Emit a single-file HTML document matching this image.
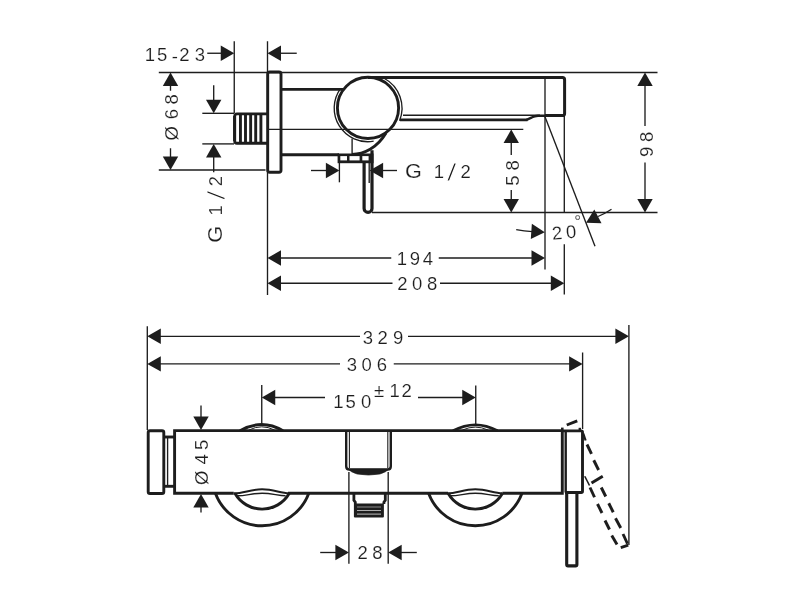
<!DOCTYPE html>
<html><head><meta charset="utf-8"><title>Drawing</title>
<style>
html,body{margin:0;padding:0;background:#fff;}
svg{display:block;}
svg text{font-family:"Liberation Sans",sans-serif;fill:#1d1d1b;stroke:#fff;stroke-width:0.15px;}
svg text.sl{stroke-width:0.9px;}
svg{filter:grayscale(1);}
</style></head>
<body>
<svg width="800" height="600" viewBox="0 0 800 600">
<rect x="0" y="0" width="800" height="600" fill="#fff" stroke="none"/>
<g stroke="#1d1d1b" fill="none">
<line x1="234.25" y1="41.25" x2="234.25" y2="113" stroke-width="1.35" />
<line x1="267.5" y1="41.25" x2="267.5" y2="295" stroke-width="1.35" />
<line x1="158.8" y1="72.5" x2="657.5" y2="72.5" stroke-width="1.35" />
<line x1="158.8" y1="170" x2="265.5" y2="170" stroke-width="1.35" />
<line x1="202.3" y1="113.3" x2="234" y2="113.3" stroke-width="1.35" />
<line x1="202.3" y1="143.9" x2="234" y2="143.9" stroke-width="1.35" />
<line x1="269" y1="129.3" x2="523.3" y2="129.3" stroke-width="1.35" />
<line x1="372" y1="212.5" x2="657.5" y2="212.5" stroke-width="1.35" />
<line x1="545" y1="77" x2="545" y2="269.5" stroke-width="1.35" />
<line x1="564.3" y1="116" x2="564.3" y2="213" stroke-width="1.35" />
<line x1="564.3" y1="244.3" x2="564.3" y2="294.5" stroke-width="1.35" />
<line x1="544.7" y1="116" x2="595" y2="246.3" stroke-width="1.35" />
<line x1="339.4" y1="163" x2="339.4" y2="182.3" stroke-width="1.35" />
<line x1="369.2" y1="163" x2="369.2" y2="183" stroke-width="1.35" />
<line x1="352.1" y1="138.5" x2="352.1" y2="154" stroke-width="1.35" />
<line x1="645" y1="85" x2="645" y2="126" stroke-width="1.35" />
<line x1="645" y1="162.5" x2="645" y2="200" stroke-width="1.35" />
<polygon points="645.00,72.50 652.70,86.00 637.30,86.00" fill="#1d1d1b" stroke="none"/>
<polygon points="645.00,212.50 637.30,199.00 652.70,199.00" fill="#1d1d1b" stroke="none"/>
<line x1="511.25" y1="142" x2="511.25" y2="155" stroke-width="1.35" />
<line x1="511.25" y1="190" x2="511.25" y2="200" stroke-width="1.35" />
<polygon points="511.25,129.50 518.95,143.00 503.55,143.00" fill="#1d1d1b" stroke="none"/>
<polygon points="511.25,212.50 503.55,199.00 518.95,199.00" fill="#1d1d1b" stroke="none"/>
<line x1="170.5" y1="85" x2="170.5" y2="90.75" stroke-width="1.35" />
<line x1="170.5" y1="148.25" x2="170.5" y2="158" stroke-width="1.35" />
<polygon points="170.50,72.50 178.20,86.00 162.80,86.00" fill="#1d1d1b" stroke="none"/>
<polygon points="170.50,170.00 162.80,156.50 178.20,156.50" fill="#1d1d1b" stroke="none"/>
<line x1="213.7" y1="85.2" x2="213.7" y2="101.3" stroke-width="1.35" />
<line x1="213.7" y1="155.7" x2="213.7" y2="172.25" stroke-width="1.35" />
<polygon points="213.70,113.30 206.00,99.80 221.40,99.80" fill="#1d1d1b" stroke="none"/>
<polygon points="213.70,143.90 221.40,157.40 206.00,157.40" fill="#1d1d1b" stroke="none"/>
<line x1="207.25" y1="53.25" x2="222" y2="53.25" stroke-width="1.35" />
<line x1="280" y1="53.25" x2="296.75" y2="53.25" stroke-width="1.35" />
<polygon points="234.25,53.25 220.75,60.95 220.75,45.55" fill="#1d1d1b" stroke="none"/>
<polygon points="267.50,53.25 281.00,45.55 281.00,60.95" fill="#1d1d1b" stroke="none"/>
<line x1="311" y1="170.5" x2="327.2" y2="170.5" stroke-width="1.35" />
<line x1="382.3" y1="170.5" x2="397" y2="170.5" stroke-width="1.35" />
<polygon points="339.40,170.50 325.90,178.20 325.90,162.80" fill="#1d1d1b" stroke="none"/>
<polygon points="369.60,170.50 383.10,162.80 383.10,178.20" fill="#1d1d1b" stroke="none"/>
<line x1="280" y1="258" x2="391.25" y2="258" stroke-width="1.35" />
<line x1="438.75" y1="258" x2="533" y2="258" stroke-width="1.35" />
<polygon points="267.50,258.00 281.00,250.30 281.00,265.70" fill="#1d1d1b" stroke="none"/>
<polygon points="545.00,258.00 531.50,265.70 531.50,250.30" fill="#1d1d1b" stroke="none"/>
<line x1="280" y1="283.25" x2="392.5" y2="283.25" stroke-width="1.35" />
<line x1="440" y1="283.25" x2="552" y2="283.25" stroke-width="1.35" />
<polygon points="267.50,283.25 281.00,275.55 281.00,290.95" fill="#1d1d1b" stroke="none"/>
<polygon points="564.30,283.25 550.80,290.95 550.80,275.55" fill="#1d1d1b" stroke="none"/>
<polygon points="544.80,232.30 530.80,239.04 531.87,223.68" fill="#1d1d1b" stroke="none"/>
<path d="M532.5,231.6 Q524,231.2 516.2,229.6" stroke-width="1.35" fill="none" />
<polygon points="586.00,222.75 594.30,209.61 601.53,223.21" fill="#1d1d1b" stroke="none"/>
<path d="M598,216.5 Q605,213.5 611.5,209.2" stroke-width="1.35" fill="none" />
<rect x="267.7" y="72" width="13.3" height="100.3" rx="2" ry="2" stroke-width="2.9" fill="none"/>
<path d="M267,113.85 H237 Q234.7,113.85 234.7,116.2 V140.9 Q234.7,143.2 237,143.2 H267" stroke-width="2.9" fill="none" />
<line x1="234.2" y1="116" x2="234.2" y2="141" stroke-width="2.2" />
<line x1="240.45" y1="114" x2="240.45" y2="143.2" stroke-width="2.9" />
<line x1="245.5" y1="114" x2="245.5" y2="143.2" stroke-width="2.9" />
<line x1="250.65" y1="114" x2="250.65" y2="143.2" stroke-width="2.9" />
<line x1="255.7" y1="114" x2="255.7" y2="143.2" stroke-width="2.9" />
<line x1="260.9" y1="114" x2="260.9" y2="143.2" stroke-width="2.9" />
<line x1="282" y1="89.4" x2="343" y2="89.4" stroke-width="2.9" />
<line x1="282" y1="154.8" x2="339" y2="154.8" stroke-width="2.9" />
<circle cx="368" cy="107.9" r="30.6" stroke-width="2.9" fill="none"/>
<path d="M373.63,141.19 A33.6,33.6 0 0 1 340.62,88.35" stroke-width="1.35" fill="none" />
<path d="M384.07,78.26 A33.8,33.8 0 0 1 399.54,120.76" stroke-width="1.35" fill="none" />
<path d="M368,77.5 H562.4 Q564.6,77.5 564.6,79.7 V113.4 Q564.6,115.6 562.4,115.6 H545" stroke-width="3" fill="none" />
<path d="M546,115.7 H538 Q534.5,116 532,117.3 L526.5,119.8" stroke-width="2.4" fill="none" />
<path d="M527.5,119.8 H400" stroke-width="2.8" fill="none" />
<line x1="403" y1="115.2" x2="540" y2="115.2" stroke-width="1.35" />
<path d="M364.1,163 V208.4 A3.95,3.95 0 0 0 372,208.4 V150.2" stroke-width="3.2" fill="none" />
<path d="M352,154.4 C364,154.4 377,148 386,133" stroke-width="2.9" fill="none" />
<rect x="337.6" y="153.5" width="35.9" height="9.7" fill="#1d1d1b" stroke="none"/>
<rect x="340.3" y="156.1" width="6.70" height="4.3" fill="#fff" stroke="none"/>
<rect x="349.5" y="156.1" width="10.10" height="4.3" fill="#fff" stroke="none"/>
<rect x="362.3" y="156.1" width="6.30" height="4.3" fill="#fff" stroke="none"/>
<text x="144.83 157.07" y="60.6" font-size="18.5" >15</text>
<text x="171.75" y="62.8" font-size="18.5" >-</text>
<text x="179.32 194.81" y="60.6" font-size="18.5" >23</text>
<text transform="translate(178.2 0) rotate(-90)" x="-140.52 -119.37 -104.43" y="0" font-size="18.5">Ø68</text>
<text transform="translate(221.90 234.65) rotate(-90) scale(1.1 1)" x="-7.49" y="0" font-size="19.7">G</text>
<text transform="translate(221.6 0) rotate(-90)" x="-215.56" y="0" font-size="18.5">1</text>
<text transform="translate(225.00 195.30) rotate(-90) scale(1.45 1)" x="-3.43" y="0" font-size="24.5" class="sl">/</text>
<text transform="translate(221.6 0) rotate(-90)" x="-186.18" y="0" font-size="18.5">2</text>
<text transform="translate(413.15 178.20) scale(1.1 1)" x="-7.49" y="0" font-size="19.7">G</text>
<text x="433.83" y="177.9" font-size="18.5" >1</text>
<text transform="translate(451.80 181.30) scale(1.45 1)" x="-3.43" y="0" font-size="24.5" class="sl">/</text>
<text x="460.42" y="177.9" font-size="18.5" >2</text>
<text transform="translate(518.7 0) rotate(-90)" x="-185.68 -170.43" y="0" font-size="18.5">58</text>
<text transform="translate(652.6 0) rotate(-90)" x="-157.09 -142.08" y="0" font-size="18.5">98</text>
<g transform="rotate(-5 565 238)">
<text x="552.32 566.41" y="238.6" font-size="18.5" >20</text>
</g>
<text x="574.28" y="227.42" font-size="17">°</text>
<text x="396.83 409.66 422.66" y="264.6" font-size="18.5" >194</text>
<text x="397.32 411.96 427.07" y="289.7" font-size="18.5" >208</text>
<line x1="147.3" y1="326.2" x2="147.3" y2="430" stroke-width="1.35" />
<line x1="628.9" y1="325" x2="628.9" y2="545" stroke-width="1.35" />
<line x1="582.6" y1="352.5" x2="582.6" y2="429" stroke-width="1.35" />
<line x1="261.75" y1="385" x2="261.75" y2="424" stroke-width="1.35" />
<line x1="475.75" y1="385.5" x2="475.75" y2="425" stroke-width="1.35" />
<line x1="348.9" y1="472" x2="348.9" y2="563.7" stroke-width="1.35" />
<line x1="388.2" y1="472" x2="388.2" y2="563.7" stroke-width="1.35" />
<line x1="160" y1="336.3" x2="360" y2="336.3" stroke-width="1.35" />
<line x1="408" y1="336.3" x2="616.5" y2="336.3" stroke-width="1.35" />
<polygon points="147.30,336.30 160.80,328.60 160.80,344.00" fill="#1d1d1b" stroke="none"/>
<polygon points="628.90,336.30 615.40,344.00 615.40,328.60" fill="#1d1d1b" stroke="none"/>
<line x1="160" y1="363.9" x2="340" y2="363.9" stroke-width="1.35" />
<line x1="393.75" y1="363.9" x2="570.5" y2="363.9" stroke-width="1.35" />
<polygon points="147.30,363.90 160.80,356.20 160.80,371.60" fill="#1d1d1b" stroke="none"/>
<polygon points="582.60,363.90 569.10,371.60 569.10,356.20" fill="#1d1d1b" stroke="none"/>
<line x1="274" y1="397.5" x2="325" y2="397.5" stroke-width="1.35" />
<line x1="418" y1="397.5" x2="463" y2="397.5" stroke-width="1.35" />
<polygon points="261.75,397.50 275.25,389.80 275.25,405.20" fill="#1d1d1b" stroke="none"/>
<polygon points="475.75,397.50 462.25,405.20 462.25,389.80" fill="#1d1d1b" stroke="none"/>
<line x1="320.2" y1="552.5" x2="337" y2="552.5" stroke-width="1.35" />
<line x1="401" y1="552.5" x2="416.8" y2="552.5" stroke-width="1.35" />
<polygon points="348.90,552.50 335.40,560.20 335.40,544.80" fill="#1d1d1b" stroke="none"/>
<polygon points="388.20,552.50 401.70,544.80 401.70,560.20" fill="#1d1d1b" stroke="none"/>
<line x1="201" y1="405.5" x2="201" y2="418" stroke-width="1.35" />
<line x1="201" y1="506" x2="201" y2="512.5" stroke-width="1.35" />
<polygon points="201.00,430.00 193.30,416.50 208.70,416.50" fill="#1d1d1b" stroke="none"/>
<polygon points="201.00,494.00 208.70,507.50 193.30,507.50" fill="#1d1d1b" stroke="none"/>
<rect x="148.2" y="430.8" width="15.6" height="62.7" rx="1.8" ry="1.8" stroke-width="2.9" fill="none"/>
<line x1="165" y1="437" x2="174.5" y2="437" stroke-width="2.9" />
<line x1="165" y1="486.3" x2="174.5" y2="486.3" stroke-width="2.9" />
<line x1="167.6" y1="437" x2="167.6" y2="486.3" stroke-width="1.35" />
<path d="M562.3,430.6 H174.6 V493.2 H233.75 M288,493.2 H448 M502.4,493.2 H562.3 V430.6" stroke-width="2.9" fill="none" />
<path d="M240,430.8 Q261.75,418.3 283,430.8" stroke-width="2.9" fill="none" />
<path d="M249,430 Q261.75,423.6 274.5,430" stroke-width="1" fill="none" />
<path d="M453,430.8 Q475.4,419 497.5,430.8" stroke-width="2.9" fill="none" />
<path d="M462.5,430 Q475.4,424.2 488,430" stroke-width="1" fill="none" />
<path d="M215.40000000000003,493.3 A49.8,49.8 0 0 0 308.8,493.3" stroke-width="2.9" fill="none" />
<path d="M234.90000000000003,493.3 A31.3,31.3 0 0 0 289.3,493.3" stroke-width="2.9" fill="none" />
<path d="M233.8,493.3 C244.10000000000002,493.3 250.10000000000002,489.3 262.1,489.3 C274.1,489.3 280.1,493.3 289.3,493.3" stroke-width="2" fill="none" />
<path d="M237.60000000000002,495.8 C246.10000000000002,495.8 252.10000000000002,493.2 262.1,493.2 C272.1,493.2 278.1,495.8 285.6,495.8" stroke-width="1.4" fill="none" />
<path d="M428.6,493.3 A49.8,49.8 0 0 0 522.0,493.3" stroke-width="2.9" fill="none" />
<path d="M448.1,493.3 A31.3,31.3 0 0 0 502.5,493.3" stroke-width="2.9" fill="none" />
<path d="M447.0,493.3 C457.3,493.3 463.3,489.3 475.3,489.3 C487.3,489.3 493.3,493.3 502.5,493.3" stroke-width="2" fill="none" />
<path d="M450.8,495.8 C459.3,495.8 465.3,493.2 475.3,493.2 C485.3,493.2 491.3,495.8 498.8,495.8" stroke-width="1.4" fill="none" />
<path d="M346.2,430.8 V466.3 Q346.2,469.6 349.5,469.6 H387.5 Q390.8,469.6 390.8,466.3 V430.8" stroke-width="2.4" fill="none" />
<line x1="349.4" y1="432" x2="349.4" y2="468" stroke-width="1.1" />
<line x1="387.8" y1="432" x2="387.8" y2="468" stroke-width="1.1" />
<path d="M348,468.8 H389 Q386.5,472 380,474 Q368.5,476.2 357,474 Q350.5,472 348,468.8 Z" stroke-width="0.6" fill="#1d1d1b" />
<path d="M353.9,493.3 V500.3 L355.3,502.3 V504 M383.9,504 V502.3 L385.3,500.3 V493.3" stroke-width="2.8" fill="none" />
<rect x="353.9" y="503.4" width="30" height="14.2" rx="1" ry="1" fill="#1d1d1b" stroke="none"/>
<line x1="357" y1="507" x2="381" y2="507" stroke-width="0.8" stroke="#a8a8a8"/>
<line x1="357" y1="510.5" x2="381" y2="510.5" stroke-width="0.8" stroke="#d0d0d0"/>
<line x1="357" y1="514.1" x2="381" y2="514.1" stroke-width="0.8" stroke="#e8e8e8"/>
<path d="M562.3,430.9 H581.2 Q582.5,430.9 582.5,432.2 V491.2 Q582.5,492.5 581.2,492.5 H565" stroke-width="2.9" fill="none" />
<line x1="565.7" y1="430.9" x2="565.7" y2="492.5" stroke-width="2.4" />
<line x1="562.3" y1="427.6" x2="562.3" y2="431" stroke-width="2.6" />
<line x1="579.8" y1="427.8" x2="579.8" y2="431" stroke-width="2.4" />
<path d="M566.7,493 V564.6 Q566.7,565.9 568,565.9 H575.6 Q576.9,565.9 576.9,564.6 V493" stroke-width="3.1" fill="none" />
<line x1="566.75" y1="425" x2="577.25" y2="420.8" stroke-width="2.9" />
<line x1="583.3" y1="433.5" x2="585.6" y2="440.5" stroke-width="2.2" />
<line x1="587" y1="444.5" x2="591.5" y2="453.8" stroke-width="2.9" />
<line x1="593.75" y1="460.25" x2="598.6" y2="470" stroke-width="2.9" />
<line x1="591.5" y1="483" x2="602.75" y2="476.25" stroke-width="2.9" />
<line x1="584.75" y1="476.25" x2="589.5" y2="485.5" stroke-width="1.6" />
<line x1="590" y1="487.5" x2="594.5" y2="497.25" stroke-width="2.9" />
<line x1="597.5" y1="504" x2="602" y2="513" stroke-width="2.9" />
<line x1="605" y1="520.5" x2="609.5" y2="529.5" stroke-width="2.9" />
<line x1="611.75" y1="535.5" x2="617" y2="544.5" stroke-width="2.9" />
<line x1="601.25" y1="487.5" x2="605.75" y2="496.5" stroke-width="2.9" />
<line x1="608.75" y1="503.25" x2="613.25" y2="512.25" stroke-width="2.9" />
<line x1="615.5" y1="518.25" x2="620.75" y2="528" stroke-width="2.9" />
<line x1="623" y1="534" x2="627.5" y2="543.75" stroke-width="2.9" />
<line x1="620.75" y1="547.6" x2="628.25" y2="545.2" stroke-width="2.9" />
<text x="362.81 377.47 392.91" y="343.8" font-size="18.5" >329</text>
<text x="346.66 361.51 376.73" y="371.4" font-size="18.5" >306</text>
<text x="333.33 345.52 360.91" y="407.6" font-size="18.5" >150</text>
<text x="374.01 389.44 401.52" y="397.2" font-size="18.5" >±12</text>
<text transform="translate(208 0) rotate(-90)" x="-484.91 -464.49 -449.98" y="0" font-size="18.5">Ø45</text>
<text x="357.47 372.32" y="559.3" font-size="18.5" >28</text>
</g>
</svg>
</body></html>
